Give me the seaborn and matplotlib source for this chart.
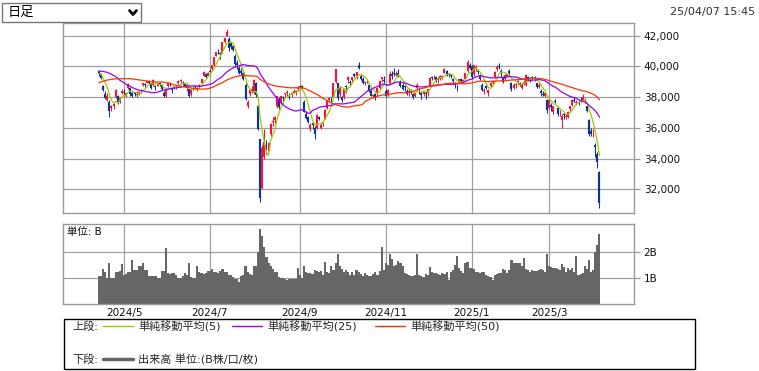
import matplotlib
matplotlib.use("Agg")
import matplotlib.pyplot as plt
from matplotlib.lines import Line2D
from matplotlib.patches import Rectangle
from matplotlib.ticker import FuncFormatter
import numpy as np
import pandas as pd
import seaborn as sns


W, H = 759, 371

RED = "#f0163e"
BLUE = "#0a3596"
MA_COLORS = {5: "#99cc00", 25: "#9900ff", 50: "#ff3300"}
GRID = "#a0a0a0"

# trading days of each month (day numbers)
TRADE_DAYS = {
    "2024/4": [12, 15, 16, 17, 18, 19, 22, 23, 24, 25, 26, 30],
    "2024/5": [1, 2, 7, 8, 9, 10, 13, 14, 15, 16, 17, 20, 21, 22, 23, 24, 27, 28, 29, 30, 31],
    "2024/6": [3, 4, 5, 6, 7, 10, 11, 12, 13, 14, 17, 18, 19, 20, 21, 24, 25, 26, 27, 28],
    "2024/7": [1, 2, 3, 4, 5, 8, 9, 10, 11, 12, 16, 17, 18, 19, 22, 23, 24, 25, 26, 29, 30, 31],
    "2024/8": [1, 2, 5, 6, 7, 8, 9, 13, 14, 15, 16, 19, 20, 21, 22, 23, 26, 27, 28, 29, 30],
    "2024/9": [2, 3, 4, 5, 6, 9, 10, 11, 12, 13, 17, 18, 19, 20, 24, 25, 26, 27, 30],
    "2024/10": [1, 2, 3, 4, 7, 8, 9, 10, 11, 15, 16, 17, 18, 21, 22, 23, 24, 25, 28, 29, 30, 31],
    "2024/11": [1, 5, 6, 7, 8, 11, 12, 13, 14, 15, 18, 19, 20, 21, 22, 25, 26, 27, 28, 29],
    "2024/12": [2, 3, 4, 5, 6, 9, 10, 11, 12, 13, 16, 17, 18, 19, 20, 23, 24, 25, 26, 27, 30],
    "2025/1": [6, 7, 8, 9, 10, 14, 15, 16, 17, 20, 21, 22, 23, 24, 27, 28, 29, 30, 31],
    "2025/2": [3, 4, 5, 6, 7, 10, 12, 13, 14, 17, 18, 19, 20, 21, 25, 26, 27, 28],
    "2025/3": [3, 4, 5, 6, 7, 10, 11, 12, 13, 14, 17, 18, 19, 21, 24, 25, 26, 27, 28, 31],
    "2025/4": [1, 2, 3, 4, 7],
}
TICK_MONTHS = ["2024/5", "2024/7", "2024/9", "2024/11", "2025/1", "2025/3"]

# closes before the first shown day, only needed for the moving averages
PRIOR_CLOSE = [
    36287,
    36011, 36158, 36354, 36160, 36119, 36863, 36897, 37963, 37703, 38157,
    38487, 38470, 38363, 38262, 39098, 39233, 39239, 39208, 39166,
    39910, 40109, 40097, 40090, 39598, 39688, 38820, 38797, 38695, 38807,
    38707, 39740, 40003, 40815, 40888, 40414, 40398, 40762, 40168, 40369,
    39803, 39838, 39451, 39773, 38992, 39347, 39773, 39581, 39442,
]

OPEN = [
    39690, 39533, 38700, 38200, 37800, 37700, 37300, 37400, 38000, 38100, 37700, 38300,
    38300, 38150, 38600, 38600, 38300, 38300, 38150, 38200, 38450, 38800, 38850, 38950, 39050, 38900, 38800, 38700, 38750, 38900, 38800, 38300, 38100,
    38700, 38900, 38550, 38600, 38650, 38900, 39050, 38950, 38900, 38600, 38500, 38200, 38600, 38700, 38500, 38650, 38900, 39400, 39500, 39400,
    39700, 39800, 40100, 40700, 40950, 40850, 40900, 41600, 42000, 41800, 41500, 41300, 40700, 40200, 39900, 39700, 39600, 38800, 37400, 38200, 38400, 38300,
    38900, 37400, 35250, 32100, 34100, 34900, 34500, 35600, 36400, 36500, 37400, 37900, 37600, 38000, 38200, 38300, 38150, 38200, 38300, 38350, 38500,
    38650, 38700, 37700, 36900, 36700, 35900, 36300, 36000, 36000, 36700, 36000, 36300, 36600, 37300, 37800, 37900, 38000, 39000, 38900,
    38200, 38000, 38000, 38700, 39100, 39000, 39100, 39500, 39300, 40100, 39400, 39200, 38950, 39000, 38800, 38400, 38100, 38200, 38300, 38600, 39200, 39100,
    38400, 38200, 38900, 39500, 39600, 39450, 39600, 39000, 38800, 38700, 38400, 38300, 38400, 38200, 38100, 38600, 38500, 38300, 38200, 38300,
    38300, 38700, 39300, 39350, 39300, 39100, 39200, 39300, 39600, 39700, 39500, 39450, 39200, 38900, 38750, 38950, 39200, 39000, 39200, 39700, 40100,
    40000, 39500, 39800, 39700, 39400, 38800, 38400, 38700, 38300, 38700, 38900, 39300, 39800, 40000, 39700, 39300, 39200, 39400, 39700,
    38900, 38600, 38800, 38900, 38900, 38600, 38900, 38800, 39300, 39200, 39300, 39300, 38900, 38650, 38400, 38200, 38100, 37800,
    37300, 37500, 37000, 37750, 37300, 37000, 36500, 36900, 36700, 36700, 37200, 37500, 37800, 37600, 37700, 37800, 37800, 37700, 37400, 36500,
    35800, 35700, 34900, 34300, 33100,
]
HIGH = [
    39720, 39600, 38800, 38400, 38250, 37800, 37500, 37600, 38500, 38150, 38000, 38500,
    38500, 38300, 38900, 38650, 38400, 38300, 38400, 38400, 38500, 38950, 38900, 39100, 39100, 38950, 39150, 38800, 38950, 39000, 38850, 38400, 38500,
    38950, 39000, 38600, 38750, 38800, 39100, 39200, 39050, 38950, 38850, 38550, 38500, 38650, 38800, 38650, 38850, 39200, 39700, 39550, 39650,
    39850, 40100, 40600, 40950, 41100, 40950, 41600, 41850, 42426, 41900, 41550, 41400, 40800, 40400, 40000, 39900, 39700, 38900, 37800, 38550, 38700, 39200,
    39000, 37500, 35250, 34900, 35900, 35200, 35100, 36300, 36700, 36800, 38100, 38000, 38100, 38100, 38300, 38450, 38300, 38350, 38500, 38450, 38700,
    38800, 38800, 37800, 37100, 36800, 36300, 36400, 36100, 36900, 36800, 36300, 36450, 37200, 37800, 38000, 38000, 38950, 39830, 38950,
    38700, 38100, 38600, 38800, 39400, 39100, 39300, 39600, 39650, 40257, 39500, 39300, 39050, 39100, 38900, 38550, 38200, 38250, 38650, 39100, 39300, 39400,
    38500, 38550, 39700, 39700, 39900, 39700, 39800, 39100, 38900, 38800, 38500, 38600, 38500, 38300, 38350, 38900, 38600, 38400, 38400, 38400,
    38550, 39300, 39400, 39450, 39400, 39300, 39450, 39450, 39900, 39750, 39550, 39500, 39250, 39000, 38800, 39200, 39250, 39200, 39600, 40400, 40200,
    40100, 40100, 40100, 39800, 39500, 38900, 38600, 38800, 38550, 38950, 39100, 39700, 40100, 40200, 39800, 39400, 39500, 39600, 39800,
    39000, 38900, 38900, 39150, 39000, 38900, 39100, 39500, 39400, 39300, 39400, 39350, 38950, 38900, 38500, 38400, 38350, 37850,
    37800, 37600, 37450, 37900, 37400, 37150, 36900, 37000, 36900, 37100, 37400, 37900, 38000, 37800, 37800, 38000, 38200, 37950, 37450, 36600,
    36000, 35900, 35000, 34400, 33200,
]
LOW = [
    39370, 39200, 38400, 37900, 37750, 36733, 37100, 37200, 37950, 37550, 37600, 38200,
    38100, 38000, 38500, 38100, 38000, 38050, 38000, 38150, 38250, 38700, 38650, 38900, 38850, 38550, 38750, 38450, 38700, 38700, 38450, 38000, 38000,
    38650, 38700, 38300, 38500, 38500, 38850, 38950, 38800, 38650, 38400, 38000, 38100, 38450, 38550, 38400, 38600, 38850, 39350, 39250, 39350,
    39550, 39750, 40050, 40650, 40800, 40500, 40900, 41500, 41950, 41000, 41150, 41000, 40050, 39850, 39500, 39450, 39100, 37800, 37300, 38100, 38300, 38200,
    38000, 35880, 31156, 32000, 34000, 34300, 34500, 35500, 36100, 36300, 37300, 37200, 37550, 37600, 38000, 38100, 37900, 38000, 38250, 38150, 38400,
    38600, 38500, 37000, 36600, 36300, 35800, 35900, 35250, 35950, 36500, 35900, 36100, 36550, 37200, 37650, 37700, 37950, 38900, 37800,
    38000, 37650, 37900, 38300, 38900, 38800, 38900, 39300, 39200, 39850, 39100, 38850, 38800, 38900, 38350, 38050, 37950, 37800, 38100, 38500, 39000, 38900,
    38000, 38100, 38800, 39200, 39400, 39350, 39300, 38650, 38450, 38400, 38150, 38100, 38200, 37900, 38000, 38500, 38200, 37900, 38100, 37900,
    38100, 38650, 39100, 39150, 39000, 38950, 39100, 39150, 39550, 39400, 39300, 39250, 38950, 38600, 38400, 38900, 38950, 38950, 39150, 39650, 39800,
    39200, 39400, 39700, 39500, 39100, 38400, 38200, 38500, 38100, 38650, 38850, 39250, 39700, 39800, 39300, 38900, 39100, 39300, 39450,
    38400, 38500, 38600, 38800, 38700, 38500, 38800, 38700, 39050, 39000, 39100, 39050, 38600, 38600, 38100, 38050, 38000, 36950,
    37250, 37100, 36900, 37600, 36800, 36800, 35990, 36600, 36550, 36650, 37100, 37450, 37700, 37500, 37500, 37700, 37750, 37600, 37000, 35500,
    35500, 35400, 34100, 33400, 30792,
]
CLOSE = [
    39523, 39233, 38471, 37961, 38079, 37068, 37438, 37552, 38460, 37628, 37934, 38405,
    38274, 38236, 38835, 38202, 38073, 38229, 38179, 38356, 38385, 38920, 38787, 39069, 38946, 38617, 39103, 38646, 38900, 38855, 38556, 38054, 38487,
    38923, 38837, 38490, 38703, 38683, 39038, 39134, 38876, 38720, 38814, 38102, 38482, 38570, 38633, 38596, 38804, 39173, 39667, 39341, 39583,
    39631, 40074, 40580, 40913, 40912, 40780, 41580, 41831, 42224, 41190, 41275, 41097, 40126, 40063, 39599, 39594, 39154, 37869, 37667, 38468, 38525, 39101,
    38126, 35909, 31458, 34675, 35089, 34831, 35025, 36232, 36442, 36726, 38062, 37388, 38062, 37951, 38211, 38364, 38110, 38288, 38371, 38362, 38647,
    38700, 38686, 37047, 36657, 36391, 36159, 36159, 35619, 36833, 36581, 36203, 36380, 37155, 37723, 37940, 37870, 38925, 39829, 37919,
    38651, 37808, 38552, 38635, 39332, 38937, 39277, 39380, 39605, 39910, 39180, 38911, 38981, 38954, 38411, 38104, 38143, 37913, 38605, 39027, 39277, 39081,
    38053, 38474, 39480, 39381, 39500, 39533, 39376, 38721, 38536, 38642, 38220, 38414, 38352, 38026, 38283, 38780, 38442, 38134, 38349, 38208,
    38513, 39248, 39276, 39395, 39091, 39160, 39367, 39372, 39849, 39470, 39457, 39364, 39081, 38813, 38701, 39161, 39036, 39130, 39568, 40281, 39894,
    39307, 40083, 39981, 39605, 39190, 38474, 38444, 38572, 38451, 38902, 39027, 39646, 39958, 39931, 39565, 39016, 39414, 39513, 39572,
    38520, 38798, 38831, 39066, 38787, 38801, 38963, 39461, 39149, 39174, 39270, 39164, 38678, 38776, 38237, 38142, 38256, 37155,
    37785, 37331, 37418, 37704, 36887, 37028, 36793, 36819, 36790, 37053, 37396, 37845, 37751, 37677, 37608, 37780, 38027, 37799, 37120, 35617,
    35624, 35725, 34736, 33780, 31136,
]
# volume, billions
VOLUME = [
    1.08, 1.08, 1.34, 1.20, 1.00, 1.57, 1.00, 1.00, 1.20, 1.20, 1.26, 1.53,
    1.10, 1.12, 1.20, 1.20, 1.69, 1.30, 1.30, 1.45, 1.45, 1.58, 1.30, 1.28, 1.08, 1.08, 1.08, 1.05, 0.97, 1.00, 1.26, 1.26, 2.13,
    1.19, 1.15, 1.19, 1.19, 1.10, 0.97, 1.00, 1.06, 1.19, 1.10, 1.58, 1.04, 0.97, 1.00, 1.43, 1.20, 1.17, 1.15, 1.19, 1.25,
    1.25, 1.32, 1.23, 1.20, 1.19, 1.25, 1.32, 1.20, 1.23, 1.10, 1.10, 1.04, 0.94, 0.94, 0.84, 1.06, 1.10, 1.45, 1.23, 1.15, 1.10, 1.45,
    1.45, 2.00, 2.86, 2.62, 2.20, 1.80, 1.58, 1.43, 1.32, 1.23, 1.20, 1.04, 1.00, 0.97, 0.94, 0.91, 0.94, 0.94, 0.95, 0.95, 1.36,
    1.10, 1.00, 1.45, 1.20, 1.19, 1.17, 1.15, 1.30, 1.25, 1.23, 1.27, 1.10, 1.62, 1.20, 1.17, 1.43, 1.30, 1.58, 1.92,
    1.43, 1.32, 1.23, 1.30, 1.23, 1.10, 1.20, 1.10, 1.30, 1.20, 1.15, 1.05, 1.18, 1.10, 1.08, 1.05, 1.12, 1.20, 1.10, 1.25, 2.20, 1.30,
    1.56, 1.50, 1.91, 1.71, 1.43, 1.50, 1.66, 1.56, 1.43, 1.17, 1.12, 1.10, 1.06, 1.08, 1.10, 1.92, 1.10, 1.06, 1.04, 1.12,
    1.10, 1.40, 1.20, 1.17, 1.17, 1.12, 1.10, 1.17, 1.15, 1.23, 0.91, 1.23, 1.30, 1.49, 1.84, 1.36, 1.25, 1.17, 1.58, 1.62, 1.36,
    1.36, 1.32, 1.23, 1.20, 1.19, 1.21, 1.23, 1.10, 1.07, 1.04, 0.91, 1.10, 1.15, 1.17, 1.19, 1.32, 1.28, 1.17, 1.30,
    1.69, 1.56, 1.58, 1.55, 1.56, 1.43, 1.75, 1.32, 1.28, 1.23, 1.30, 1.27, 1.27, 1.30, 1.32, 1.30, 1.23, 1.92,
    1.43, 1.40, 1.36, 1.36, 1.33, 1.30, 1.53, 1.40, 1.23, 1.36, 1.30, 1.36, 1.23, 1.84, 1.10, 1.15, 1.17, 1.43, 1.32, 1.69,
    1.23, 1.30, 1.97, 2.27, 2.70,
]

PRICE_TICKS = [32000, 34000, 36000, 38000, 40000, 42000]
VOLUME_TICKS = [1, 2]


def px(x, y):
    return x / W, 1 - y / H


def build_frame():
    dates, month_start = [], {}
    for month, days in TRADE_DAYS.items():
        year, mon = (int(v) for v in month.split("/"))
        month_start[month] = len(dates)
        dates += [pd.Timestamp(year, mon, d) for d in days]
    df = pd.DataFrame({"date": dates, "open": OPEN, "high": HIGH, "low": LOW,
                       "close": CLOSE, "volume": VOLUME})
    df["x"] = np.arange(len(df))
    closes = pd.Series(PRIOR_CLOSE + CLOSE, dtype=float)
    for n in MA_COLORS:
        df[f"ma{n}"] = closes.rolling(n).mean().iloc[-len(df):].to_numpy()
    return df, month_start


def style_axes(ax):
    for spine in ax.spines.values():
        spine.set_color("#999999")
        spine.set_linewidth(1.0)
    ax.grid(True, color=GRID, linewidth=0.9)
    ax.set_axisbelow(True)
    ax.yaxis.tick_right()
    ax.tick_params(axis="y", length=4.5, width=0.9, color="#999999", labelsize=7.5, pad=2.5,
                   labelcolor="#111111")
    ax.tick_params(axis="x", length=0, labelsize=7.5, pad=3, labelcolor="#111111")
    ax.set_xlabel("")
    ax.set_ylabel("")


def main():
    sns.set_theme(style="white")
    plt.rcParams["font.family"] = ["DejaVu Sans", "Noto Sans CJK JP"]

    df, month_start = build_frame()
    tick_x = [month_start[m] for m in TICK_MONTHS]
    xlim = (-17.15, 255.5)

    fig = plt.figure(figsize=(W / 100, H / 100), dpi=100)
    ax_p = fig.add_axes([63 / W, 1 - 213 / H, 571 / W, 190 / H])
    ax_v = fig.add_axes([63 / W, 1 - 303.5 / H, 571 / W, 79.5 / H])

    # candles: thin wick, ~2px body
    up = df["close"] >= df["open"]
    colors = np.where(up, RED, BLUE)
    ax_p.vlines(df["x"], df["low"], df["high"], colors=colors, linewidth=0.75)
    body_low = np.minimum(df["open"], df["close"])
    body_high = np.maximum(np.maximum(df["open"], df["close"]), body_low + 40)
    ax_p.vlines(df["x"], body_low, body_high, colors=colors, linewidth=1.55)

    for n, color in MA_COLORS.items():
        sns.lineplot(data=df, x="x", y=f"ma{n}", ax=ax_p, color=color, linewidth=0.9, legend=False)

    ax_p.set_xlim(*xlim)
    ax_p.set_ylim(30458, 42824)
    ax_p.set_yticks(PRICE_TICKS)
    ax_p.yaxis.set_major_formatter(FuncFormatter(lambda v, _: f"{v:,.0f}"))
    ax_p.set_xticks(tick_x)
    ax_p.set_xticklabels([])
    style_axes(ax_p)

    # volume
    ax_v.bar(df["x"], df["volume"], width=1.0, color="#666666", linewidth=0)
    ax_v.set_xlim(*xlim)
    ax_v.set_ylim(0, 3.07)
    ax_v.set_yticks(VOLUME_TICKS)
    ax_v.set_yticklabels([f"{v}B" for v in VOLUME_TICKS])
    ax_v.set_xticks(tick_x)
    ax_v.set_xticklabels(TICK_MONTHS)
    style_axes(ax_v)
    ax_v.text(*px(67, 232), "単位: B", transform=fig.transFigure, fontsize=7.5,
              va="center", ha="left", color="#111111")

    # period selector and timestamp
    fig.add_artist(Rectangle(px(2, 22), 139 / W, 19 / H, transform=fig.transFigure,
                             facecolor="white", edgecolor="#767676", linewidth=1.0))
    fig.text(*px(8, 12.5), "日足", fontsize=9.5, va="center", ha="left", color="#000000")
    fig.add_artist(Line2D([129.5 / W, 133 / W, 136.5 / W],
                          [1 - 10.5 / H, 1 - 14.5 / H, 1 - 10.5 / H],
                          transform=fig.transFigure, color="#000000", linewidth=2.0))
    fig.text(*px(755, 12), "25/04/07 15:45", fontsize=8, va="center", ha="right", color="#333333")

    # legend box
    fig.add_artist(Rectangle(px(63.5, 369), 631.5 / W, 50 / H, transform=fig.transFigure,
                             facecolor="none", edgecolor="#000000", linewidth=1.0))
    fig.text(*px(72, 326.5), "上段:", fontsize=8, va="center", ha="left")
    legend_items = [(5, 103, 138), (25, 232, 267), (50, 375, 410)]
    for n, x0, tx in legend_items:
        fig.add_artist(Line2D([x0 / W, (x0 + 30) / W], [1 - 326 / H] * 2,
                              transform=fig.transFigure, color=MA_COLORS[n], linewidth=1.0))
        fig.text(*px(tx, 326.5), f"単純移動平均({n})", fontsize=8, va="center", ha="left")
    fig.text(*px(72, 359.5), "下段:", fontsize=8, va="center", ha="left")
    fig.add_artist(Line2D([103 / W, 133 / W], [1 - 359 / H] * 2,
                          transform=fig.transFigure, color="#666666", linewidth=2.5))
    fig.text(*px(138, 359.5), "出来高 単位:(B株/口/枚)", fontsize=8, va="center", ha="left")

    fig.savefig("out.png", dpi=100)
    plt.close(fig)


if __name__ == "__main__":
    main()
